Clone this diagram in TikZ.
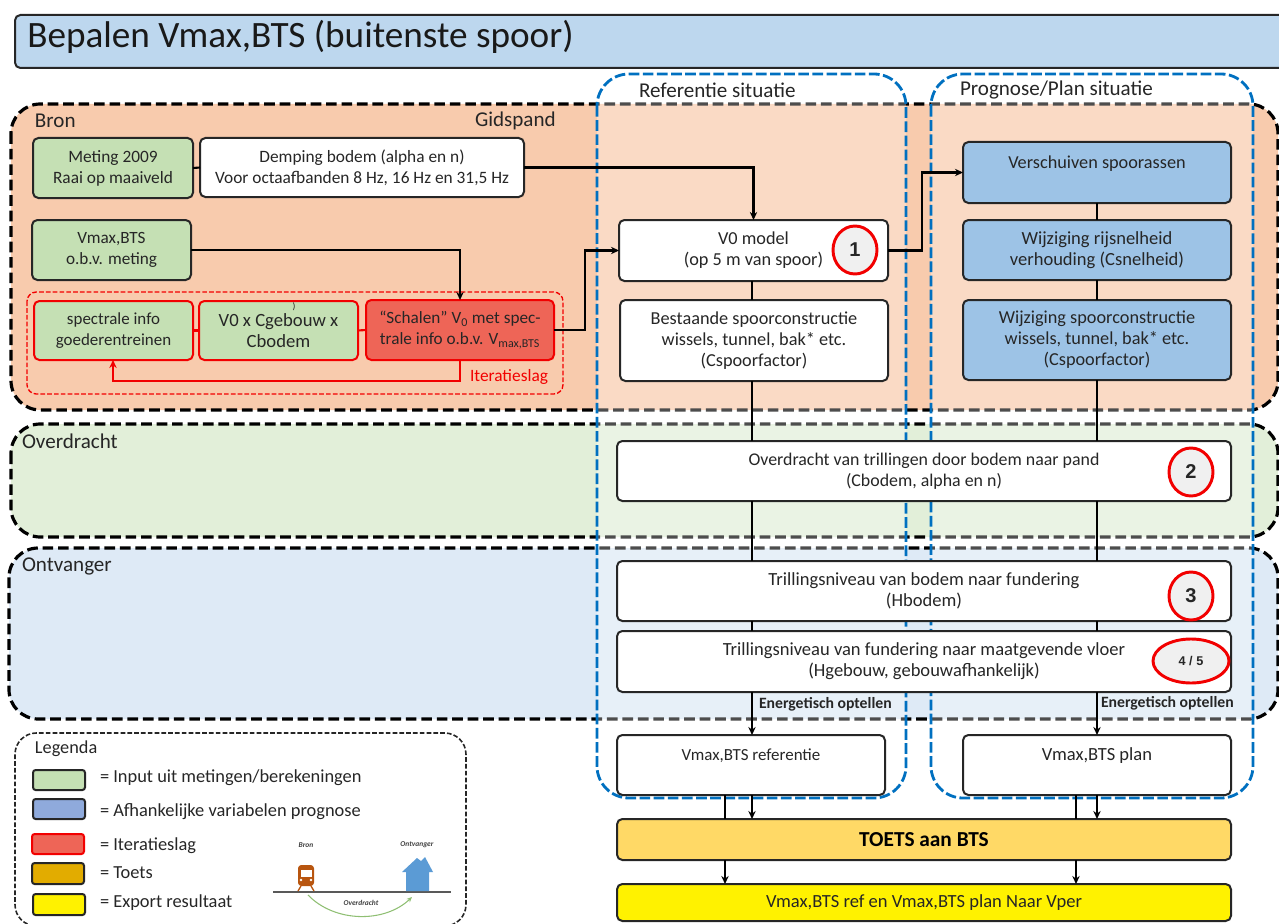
\documentclass[tikz,border=0pt]{standalone}
\usepackage{fontspec}
\setmainfont{Carlito}
\newfontfamily\numfont{Liberation Sans}
\usetikzlibrary{arrows.meta,calc,shapes.geometric}
\definecolor{txt}{HTML}{262626}
\definecolor{bronc}{HTML}{F8CBAD}
\definecolor{overc}{HTML}{E2EFD9}
\definecolor{ontvc}{HTML}{DEEAF6}
\definecolor{titlec}{HTML}{BDD7EE}
\definecolor{groen}{HTML}{C5E0B4}
\definecolor{blauw}{HTML}{9DC3E6}
\definecolor{legblauw}{HTML}{8FAADC}
\definecolor{rood}{HTML}{EE6557}
\definecolor{kolom}{HTML}{0070C0}
\definecolor{toets}{HTML}{FFD966}
\definecolor{legtoets}{HTML}{E2AC00}
\definecolor{spoor}{HTML}{B8550F}
\definecolor{huis}{HTML}{5B9BD5}
\definecolor{boog}{HTML}{8FBF73}
\tikzset{
  x=0.75pt,y=-0.75pt,
  fs/.style={font=\fontsize{#1}{15.8}\selectfont},
  base/.style={rounded corners=4pt,line width=1.5pt,draw=black!85,align=center,inner sep=0pt,outer sep=0pt,text=txt},
  wit/.style={base,fill=white},
  groenbox/.style={base,fill=groen},
  blauwbox/.style={base,fill=blauw},
  roodrand/.style={base,fill=groen,draw=red!95!black},
  roodbox/.style={base,fill=rood,draw=red!95!black},
  toetsbox/.style={base,fill=toets},
  exportbox/.style={base,fill=yellow},
  band/.style={draw=black,line width=2.4pt,dash pattern=on 8pt off 3.6pt,rounded corners=22pt},
  kol/.style={draw=kolom,line width=2.1pt,dash pattern=on 8pt off 2.6pt,rounded corners=24pt,fill=white,fill opacity=.3},
  lijn/.style={draw=black,line width=1.6pt},
  pijl/.style={lijn,-{Stealth[length=6pt,width=5.5pt]}},
  roodlijn/.style={draw=red!95!black,line width=1.6pt},
  num/.style={ellipse,draw=red!95!black,line width=2.2pt,fill=black!6,inner sep=0pt,outer sep=0pt,font=\numfont\bfseries\fontsize{15}{15}\selectfont,text=txt},
  lab/.style={inner sep=0pt,outer sep=0pt,text=txt,font=\fontsize{15.8}{18}\selectfont},
  legbox/.style={rounded corners=2pt,line width=1.5pt,draw=black!85,inner sep=0pt,outer sep=0pt},
  legtekst/.style={lab,anchor=west,font=\fontsize{13.8}{15}\selectfont},
  klein/.style={inner sep=0pt,outer sep=0pt,text=black!75,font=\bfseries\itshape\fontsize{5.6}{6}\selectfont},
  energie/.style={inner sep=0pt,outer sep=0pt,anchor=west,text=txt,font=\bfseries\fontsize{11.8}{13}\selectfont}
}
\newcommand{\bx}[7]{%
  \pgfmathsetmacro\cx{(#2+#4)/2}\pgfmathsetmacro\cy{(#3+#5)/2}%
  \pgfmathsetmacro\bw{(#4-#2)*0.75}\pgfmathsetmacro\bh{(#5-#3)*0.75}%
  \node[#6,minimum width=\bw pt,minimum height=\bh pt] (#1) at (\cx,\cy) {#7};}
\begin{document}
\begin{tikzpicture}
\useasboundingbox (0,0) rectangle (1279,924);
\begin{scope}
\clip (0,0) rectangle (1279,924);
% title
\bx{titel}{15}{15}{1290}{68}{base,fill=titlec}{}
\node[anchor=west,inner sep=0pt,text=black!90,font=\fontsize{27.9}{30}\selectfont] (titeltekst) at (27,37) {Bepalen Vmax,BTS (buitenste spoor)};
% bands
\draw[band,fill=bronc] (11,104) rectangle (1278,410);
\draw[band,fill=overc] (11,424) rectangle (1278,537);
\draw[band,fill=ontvc] (9,548) rectangle (1278,719);
% columns
\draw[kol] (597,74) rectangle (906,798);
\draw[kol] (931,74) rectangle (1253,798);
% legend frame
\draw[draw=black!85,line width=1.2pt,dash pattern=on 3.5pt off 1.6pt,rounded corners=16pt] (15,733) rectangle (466,926);
% labels
\node[lab,anchor=west] (lbron) at (35,121) {Bron};
\node[lab,anchor=west] (lgids) at (475,121) {Gidspand};
\node[lab,anchor=west] (lover) at (22,441) {Overdracht};
\node[lab,anchor=west] (lontv) at (22,566) {Ontvanger};
\node[lab,anchor=west] (lref) at (639,90) {Referentie situatie};
\node[lab,anchor=west] (lplan) at (960,90) {Prognose/Plan situatie};
% iteration frame
\draw[draw=red!95!black,line width=1pt,dash pattern=on 3.5pt off 1.6pt,rounded corners=7pt] (27,292) rectangle (563,394);
\node[lab,anchor=west,text=red!95!black,font=\fontsize{13}{15}\selectfont] (liter) at (470,377) {Iteratieslag};
% boxes
\bx{met}{33}{138}{193}{198}{groenbox,fs=13}{Meting 2009\\Raai op maaiveld}
\bx{dem}{200}{138}{524}{197}{wit,fs=13}{Demping bodem (alpha en n)\\Voor octaafbanden 8 Hz, 16 Hz en 31,5 Hz}
\bx{vmx}{32}{220}{191}{280}{groenbox,fs=12.9}{Vmax,BTS\\o.b.v. meting}
\bx{spe}{34}{301}{193}{360}{roodrand,fs=12.7}{spectrale info\\goederentreinen}
\bx{vxc}{199}{301}{358}{360}{roodrand,fs=14}{V0 x Cgebouw x\\Cbodem}
\bx{sch}{366}{300}{554}{360}{roodbox,fs=12.9}{“Schalen” V\textsubscript{0} met spec-\\trale info o.b.v. V\textsubscript{max,BTS}}
\node[inner sep=0pt,text=txt,font=\fontsize{7}{8}\selectfont] (haak) at (294,307) {)};
\bx{v0m}{619}{220}{888}{281}{wit,fs=13.7}{V0 model\\(op 5 m van spoor)}
\bx{bes}{620}{300}{888}{381}{wit,fs=13.7}{Bestaande spoorconstructie\\wissels, tunnel, bak* etc.\\(Cspoorfactor)}
\bx{ver}{963}{142}{1231}{203}{blauwbox,fs=13.7}{Verschuiven spoorassen\\~}
\bx{wij}{963}{220}{1231}{280}{blauwbox,fs=13.9}{Wijziging rijsnelheid\\verhouding (Csnelheid)}
\bx{wsp}{963}{300}{1231}{380}{blauwbox,fs=13.7}{Wijziging spoorconstructie\\wissels, tunnel, bak* etc.\\(Cspoorfactor)}
\bx{ovd}{617}{441}{1231}{501}{wit,fs=13.4}{Overdracht van trillingen door bodem naar pand\\(Cbodem, alpha en n)}
\bx{bod}{617}{561}{1231}{621}{wit,fs=13.9}{Trillingsniveau van bodem naar fundering\\(Hbodem)}
\bx{fun}{617}{631}{1231}{692}{wit,fs=13.9}{Trillingsniveau van fundering naar maatgevende vloer\\(Hgebouw, gebouwafhankelijk)}
\bx{vrf}{617}{735}{885}{795}{wit,fs=12.7}{Vmax,BTS referentie\\~}
\bx{vpl}{963}{735}{1231}{795}{wit,fs=13.9}{Vmax,BTS plan\\~}
\bx{toe}{617}{819}{1231}{860}{toetsbox,font=\bfseries\fontsize{16}{18}\selectfont,text=black}{TOETS aan BTS}
\bx{exp}{617}{884}{1231}{921}{exportbox,fs=13.9}{Vmax,BTS ref en Vmax,BTS plan Naar Vper}
% number badges
\node[num,minimum width=33pt,minimum height=36pt] (n1) at (855,250) {1};
\node[num,minimum width=33pt,minimum height=36pt] (n2) at (1191,472) {2};
\node[num,minimum width=33pt,minimum height=36pt] (n3) at (1191,596) {3};
\node[num,minimum width=57pt,minimum height=33pt,font=\numfont\bfseries\fontsize{9.5}{10}\selectfont] (n4) at (1191,661) {4 / 5};
% helper coordinates
\coordinate (xa) at (585,300);
\coordinate (xb) at (922,200);
\coordinate (xr) at (752,0);
\coordinate (xp) at (1097,0);
\coordinate (xl) at (725,0);
\coordinate (xq) at (1076,0);
\coordinate (xi) at (113,381);
\coordinate (xj) at (460,381);
% connectors
\draw[lijn] (met.east) -- (dem.west);
\draw[roodlijn] (spe.east) -- (vxc.west);
\draw[roodlijn] (vxc.east) -- (sch.west);
\draw[pijl] (dem.east) -| (v0m.north);
\draw[pijl] (vmx.east) -| (sch.north);
\draw[pijl] (sch.east) -| (xa) |- (v0m.west);
\draw[pijl] (v0m.east) -| (xb) |- (ver.west);
\draw[roodlijn,-{Stealth[length=6pt,width=5.5pt]}] (sch.south -| xj) -- (xj) -- (xi) -- (spe.south -| xi);
\draw[lijn] (v0m.south -| xr) -- (bes.north -| xr);
\draw[lijn] (bes.south -| xr) -- (ovd.north -| xr);
\draw[lijn] (ovd.south -| xr) -- (bod.north -| xr);
\draw[lijn] (bod.south -| xr) -- (fun.north -| xr);
\draw[pijl] (fun.south -| xr) -- (vrf.north -| xr);
\draw[lijn] (vrf.south -| xl) -- (toe.north -| xl);
\draw[pijl] (vrf.south -| xr) -- (toe.north -| xr);
\draw[lijn] (ver.south -| xp) -- (wij.north -| xp);
\draw[lijn] (wij.south -| xp) -- (wsp.north -| xp);
\draw[lijn] (wsp.south -| xp) -- (ovd.north -| xp);
\draw[lijn] (ovd.south -| xp) -- (bod.north -| xp);
\draw[lijn] (bod.south -| xp) -- (fun.north -| xp);
\draw[pijl] (fun.south -| xp) -- (vpl.north -| xp);
\draw[lijn] (vpl.south -| xq) -- (toe.north -| xq);
\draw[pijl] (vpl.south -| xp) -- (toe.north -| xp);
\draw[pijl] (toe.south -| xl) -- (exp.north -| xl);
\draw[pijl] (toe.south -| xq) -- (exp.north -| xq);
\node[energie] (en1) at (759,704) {Energetisch optellen};
\node[energie] (en2) at (1101,703) {Energetisch optellen};
% legend
\node[lab,anchor=west,font=\fontsize{13.7}{15}\selectfont] (lleg) at (35,749) {Legenda};
\bx{lg1}{33}{770}{85}{790}{legbox,fill=groen}{}
\bx{lg2}{33}{799}{85}{819}{legbox,fill=legblauw}{}
\bx{lg3}{32}{834}{84}{854}{legbox,fill=rood,draw=red!95!black}{}
\bx{lg4}{32}{863}{84}{884}{legbox,fill=legtoets}{}
\bx{lg5}{33}{894}{85}{915}{legbox,fill=yellow}{}
\node[legtekst] (t1) at (100,778) {= Input uit metingen/berekeningen};
\node[legtekst] (t2) at (100,812) {= Afhankelijke variabelen prognose};
\node[legtekst] (t3) at (100,846) {= Iteratieslag};
\node[legtekst] (t4) at (100,873) {= Toets};
\node[legtekst] (t5) at (100,903) {= Export resultaat};
% small scene
\node[klein] (sb) at (306,845) {Bron};
\node[klein] (so) at (417,845) {Ontvanger};
\node[klein] (sd) at (361,903) {Overdracht};
\draw[draw=black!65,line width=1.3pt] (273,892) -- (451,892);
\draw[draw=boog,line width=.8pt,-{Stealth[length=4pt,width=3.5pt]}] (308,895) .. controls (335,923) and (385,923) .. (412,897);
\fill[spoor,rounded corners=2.5pt] (298,865) rectangle (314,886);
\fill[white] (300.5,870) rectangle (311.5,877);
\fill[white] (301,880) circle (1pt) (311,880) circle (1pt);
\draw[spoor,line width=1pt] (301,886) -- (298,891) (311,886) -- (314,891);
\fill[huis] (402,872) -- (417,858) -- (421,861) -- (425,857) -- (433,872) -- (429,872) -- (429,891) -- (406,891) -- (406,872) -- cycle;
\end{scope}
\end{tikzpicture}
\end{document}
